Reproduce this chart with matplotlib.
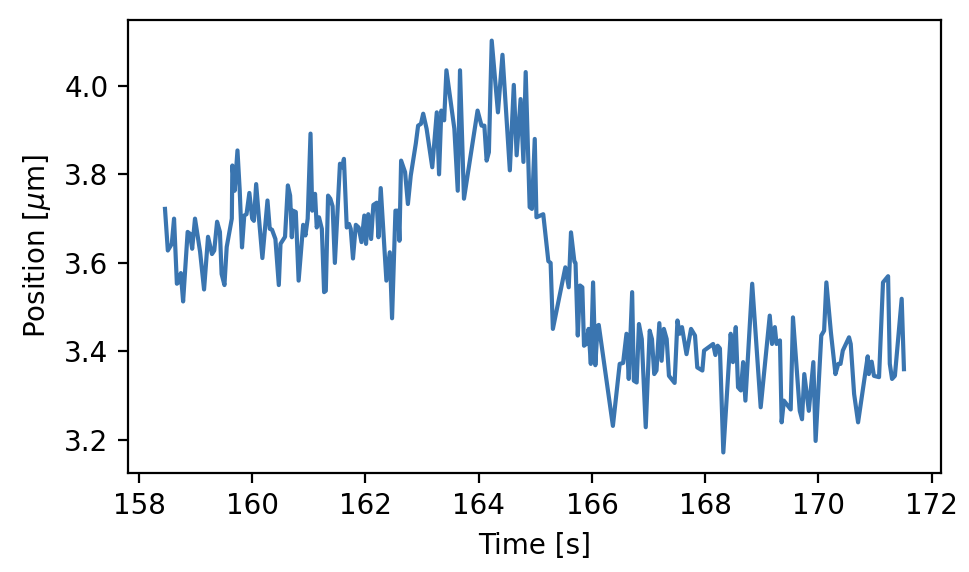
import numpy as np
import matplotlib
matplotlib.use("Agg")
import matplotlib.pyplot as plt

# time [s] and position [um]
time = [158.46, 158.51, 158.58, 158.62, 158.67, 158.71, 158.74, 158.78, 158.86, 158.90,
        158.94, 158.99, 159.08, 159.15, 159.22, 159.29, 159.33, 159.38, 159.43, 159.46,
        159.51, 159.55, 159.64, 159.65, 159.69, 159.74, 159.78, 159.82, 159.86, 159.90,
        159.95, 160.00, 160.03, 160.07, 160.12, 160.18, 160.27, 160.31, 160.35, 160.41,
        160.47, 160.50, 160.58, 160.63, 160.67, 160.70, 160.72, 160.77, 160.82, 160.90,
        160.94, 160.98, 161.03, 161.06, 161.11, 161.14, 161.18, 161.23, 161.27, 161.30,
        161.34, 161.38, 161.42, 161.46, 161.55, 161.59, 161.62, 161.67, 161.71, 161.74,
        161.78, 161.83, 161.88, 161.93, 161.98, 162.01, 162.05, 162.10, 162.14, 162.20,
        162.23, 162.27, 162.37, 162.43, 162.47, 162.53, 162.58, 162.60, 162.63, 162.70,
        162.75, 162.80, 162.89, 162.93, 162.98, 163.02, 163.08, 163.18, 163.26, 163.30,
        163.34, 163.39, 163.43, 163.57, 163.63, 163.67, 163.74, 163.98, 164.05, 164.10,
        164.14, 164.18, 164.23, 164.34, 164.42, 164.55, 164.62, 164.67, 164.74, 164.79,
        164.83, 164.90, 164.94, 164.99, 165.02, 165.14, 165.23, 165.27, 165.31, 165.53,
        165.59, 165.63, 165.69, 165.71, 165.75, 165.79, 165.83, 165.86, 165.90, 165.94,
        165.98, 166.02, 166.06, 166.10, 166.12, 166.37, 166.49, 166.55, 166.61, 166.65,
        166.71, 166.74, 166.79, 166.83, 166.88, 166.95, 167.02, 167.06, 167.10, 167.14,
        167.19, 167.23, 167.27, 167.32, 167.36, 167.46, 167.51, 167.55, 167.59, 167.67,
        167.75, 167.82, 167.86, 167.95, 167.98, 168.14, 168.18, 168.22, 168.26, 168.32,
        168.45, 168.49, 168.54, 168.58, 168.63, 168.67, 168.71, 168.83, 168.98, 169.14,
        169.18, 169.23, 169.26, 169.32, 169.35, 169.39, 169.51, 169.55, 169.67, 169.71,
        169.75, 169.83, 169.91, 169.95, 170.05, 170.10, 170.14, 170.22, 170.30, 170.35,
        170.39, 170.43, 170.54, 170.57, 170.63, 170.70, 170.87, 170.89, 170.94, 170.98,
        171.07, 171.14, 171.23, 171.26, 171.30, 171.35, 171.47, 171.51]

position = [3.722, 3.628, 3.643, 3.700, 3.553, 3.557, 3.577, 3.513, 3.670, 3.666,
            3.632, 3.700, 3.625, 3.540, 3.659, 3.620, 3.628, 3.693, 3.670, 3.575,
            3.550, 3.636, 3.700, 3.820, 3.763, 3.854, 3.763, 3.635, 3.707, 3.710,
            3.758, 3.700, 3.695, 3.778, 3.700, 3.611, 3.741, 3.677, 3.675, 3.654,
            3.550, 3.643, 3.659, 3.775, 3.752, 3.658, 3.718, 3.715, 3.560, 3.686,
            3.662, 3.700, 3.892, 3.718, 3.756, 3.680, 3.703, 3.677, 3.534, 3.537,
            3.752, 3.745, 3.728, 3.600, 3.824, 3.816, 3.835, 3.680, 3.688, 3.677,
            3.610, 3.686, 3.680, 3.647, 3.707, 3.643, 3.710, 3.654, 3.731, 3.736,
            3.658, 3.769, 3.560, 3.624, 3.475, 3.718, 3.718, 3.650, 3.831, 3.805,
            3.733, 3.797, 3.870, 3.910, 3.914, 3.937, 3.903, 3.816, 3.940, 3.800,
            3.944, 3.922, 4.035, 3.903, 3.763, 4.035, 3.745, 3.944, 3.910, 3.910,
            3.831, 3.850, 4.102, 3.940, 4.070, 3.809, 4.002, 3.843, 3.970, 3.828,
            4.031, 3.726, 3.722, 3.880, 3.703, 3.710, 3.604, 3.600, 3.451, 3.590,
            3.545, 3.669, 3.603, 3.600, 3.436, 3.549, 3.545, 3.413, 3.417, 3.451,
            3.372, 3.556, 3.369, 3.458, 3.460, 3.232, 3.372, 3.374, 3.440, 3.338,
            3.534, 3.334, 3.330, 3.462, 3.428, 3.229, 3.447, 3.428, 3.349, 3.357,
            3.464, 3.379, 3.451, 3.428, 3.345, 3.329, 3.470, 3.440, 3.455, 3.394,
            3.451, 3.436, 3.364, 3.357, 3.402, 3.417, 3.392, 3.413, 3.407, 3.172,
            3.440, 3.376, 3.455, 3.319, 3.312, 3.376, 3.289, 3.553, 3.274, 3.481,
            3.417, 3.455, 3.417, 3.425, 3.240, 3.289, 3.269, 3.477, 3.266, 3.247,
            3.349, 3.266, 3.376, 3.198, 3.436, 3.447, 3.556, 3.443, 3.349, 3.372,
            3.372, 3.402, 3.432, 3.417, 3.304, 3.240, 3.389, 3.349, 3.377, 3.345,
            3.342, 3.556, 3.570, 3.372, 3.338, 3.345, 3.519, 3.360]

fig, ax = plt.subplots(figsize=(4.85, 2.86), dpi=200)
fig.subplots_adjust(left=0.132, right=0.970, top=0.965, bottom=0.173)

ax.plot(time, position, color="#3a75b0", lw=1.5)
ax.set_xticks(np.arange(158, 173, 2))
ax.set_xlabel("Time [s]")
ax.set_ylabel(r"Position [$\mu$m]")

fig.savefig("out.png", dpi=200)
